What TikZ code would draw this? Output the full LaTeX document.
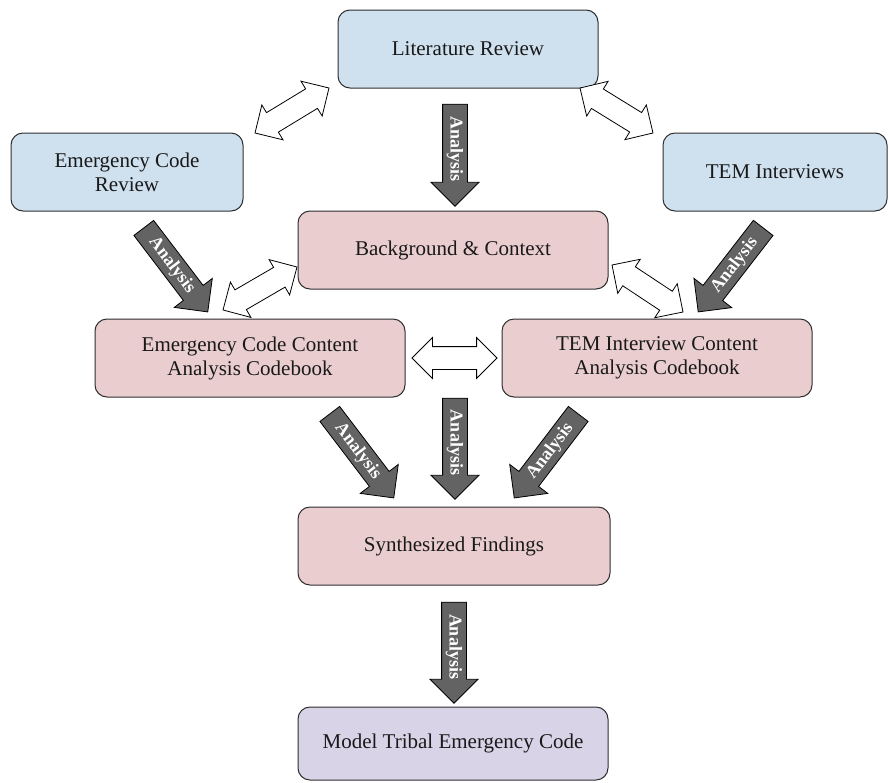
\documentclass[tikz,border=0pt]{standalone}
\usepackage{fontspec}
\setmainfont{LiberationSerif}[Extension=.ttf,UprightFont=*-Regular,BoldFont=*-Bold,ItalicFont=*-Italic,BoldItalicFont=*-BoldItalic]
\usetikzlibrary{shapes.arrows,calc}
\definecolor{boxblue}{HTML}{CFE0EF}
\definecolor{boxpink}{HTML}{EACDCF}
\definecolor{boxpurple}{HTML}{D8D3E7}
\definecolor{arrgray}{HTML}{636363}
\definecolor{edgegray}{HTML}{2E2E2E}
\tikzset{
  box/.style={draw=edgegray, line width=1pt, rounded corners=12pt, minimum height=78pt,
    align=center, font=\fontsize{21}{24}\selectfont, inner sep=2pt, text=black!90},
  bluebox/.style={box, fill=boxblue},
  pinkbox/.style={box, fill=boxpink},
  purplebox/.style={box, fill=boxpurple},
  fatarrow/.style={single arrow, draw=black, line width=0.8pt, fill=arrgray, text=white,
    font=\bfseries\fontsize{18}{18}\selectfont, single arrow head extend=11.5pt,
    single arrow tip angle=90, text height=12.5pt, text depth=3.5pt, inner ysep=4pt, inner xsep=2pt},
  dblarrow/.style={double arrow, draw=black, line width=0.8pt, fill=white,
    double arrow head extend=9pt, double arrow tip angle=90, inner ysep=11pt, inner xsep=0pt,
    text height=0pt, text depth=0pt},
}
\newcommand\fatarr[4]{%
  \path let \p1=($(#3)-(#2)$), \n1={atan2(\y1,\x1)}, \n2={veclen(\x1,\y1)} in
    node[fatarrow, rotate=\n1, minimum height=\n2] (#1) at ($(#2)!0.5!(#3)$) {#4};}
\newcommand\fatarrflip[4]{%
  \path let \p1=($(#3)-(#2)$), \n1={atan2(\y1,\x1)+180}, \n2={veclen(\x1,\y1)} in
    node[fatarrow, rotate=\n1, shape border rotate=180, minimum height=\n2] (#1) at ($(#2)!0.5!(#3)$) {#4};}
\newcommand\dblarr[3]{%
  \path let \p1=($(#3)-(#2)$), \n1={atan2(\y1,\x1)}, \n2={veclen(\x1,\y1)} in
    node[dblarrow, rotate=\n1, minimum height=\n2] (#1) at ($(#2)!0.5!(#3)$) {};}
\begin{document}
\begin{tikzpicture}[x=1pt,y=-1pt]
\useasboundingbox (0,0) rectangle (888,782);
% boxes
\node[bluebox, minimum width=260pt] (lit) at (468,49) {Literature Review};
\node[bluebox, minimum width=232pt] (ecr) at (127,172) {Emergency Code\\Review};
\node[bluebox, minimum width=224pt] (tem) at (775,172) {TEM Interviews};
\node[pinkbox, minimum width=310pt] (bg) at (453,250) {Background \& Context};
\node[pinkbox, minimum width=310pt] (ecc) at (250,358) {Emergency Code Content\\Analysis Codebook};
\node[pinkbox, minimum width=310pt] (temc) at (657,358) {TEM Interview Content\\Analysis Codebook};
\node[pinkbox, minimum width=312pt, minimum height=78pt] (sf) at (454,546) {Synthesized Findings};
\node[purplebox, minimum width=310pt, minimum height=73pt] (mtec) at (453,743.5) {Model Tribal Emergency Code};
% coordinates for arrow ends
\coordinate (f1a) at (455,98);  \coordinate (f1b) at (455,200);
\coordinate (f2a) at (140,223); \coordinate (f2b) at (204,307);
\coordinate (f3a) at (767,223); \coordinate (f3b) at (702,307);
\coordinate (f4a) at (326,409); \coordinate (f4b) at (390,493);
\coordinate (f5a) at (455,392); \coordinate (f5b) at (455,493);
\coordinate (f6a) at (582,409); \coordinate (f6b) at (518,493);
\coordinate (f7a) at (454,596); \coordinate (f7b) at (454,697);
\coordinate (d1a) at (255,133); \coordinate (d1b) at (329,88);
\coordinate (d2a) at (580,88);  \coordinate (d2b) at (653,133);
\coordinate (d3a) at (223,310); \coordinate (d3b) at (297,267);
\coordinate (d4a) at (612,265); \coordinate (d4b) at (683,312);
\coordinate (d5a) at (412,358); \coordinate (d5b) at (497,358);
% analysis arrows
\fatarr{a1}{f1a}{f1b}{Analysis}
\fatarr{a2}{f2a}{f2b}{Analysis}
\fatarrflip{a3}{f3a}{f3b}{Analysis}
\fatarr{a4}{f4a}{f4b}{Analysis}
\fatarr{a5}{f5a}{f5b}{Analysis}
\fatarrflip{a6}{f6a}{f6b}{Analysis}
\fatarr{a7}{f7a}{f7b}{Analysis}
% double arrows
\dblarr{b1}{d1a}{d1b}
\dblarr{b2}{d2a}{d2b}
\dblarr{b3}{d3a}{d3b}
\dblarr{b4}{d4a}{d4b}
\dblarr{b5}{d5a}{d5b}
\end{tikzpicture}
\end{document}
